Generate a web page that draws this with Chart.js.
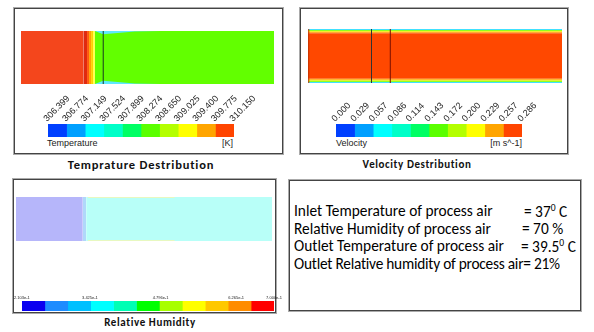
<!DOCTYPE html>
<html>
<head>
<meta charset="utf-8">
<script src="https://cdn.jsdelivr.net/npm/chart.js@4/dist/chart.umd.min.js"></script>
<style>
  body { margin: 0; width: 594px; height: 332px; background: #fff; position: relative; overflow: hidden; }
  .abs { position: absolute; }
  .panel { position: absolute; box-sizing: border-box; border: 1px solid #444; box-shadow: 0 0 0 1px #aaa; }
  .lbl { position: absolute; font: 9px "Liberation Sans", Arial, sans-serif; color: #222; white-space: nowrap; }
  .title { position: absolute; font: bold 11px Carlito, "Liberation Sans Narrow", "Liberation Sans", sans-serif; letter-spacing: 0.6px; color: #111; white-space: nowrap; transform: translateX(-50%); }
  .txt { position: absolute; font: 16px Carlito, "Liberation Sans Narrow", "Liberation Sans", sans-serif; color: #000; white-space: nowrap; transform: scaleX(0.96); transform-origin: left center; }
  .txt sup { font-size: 10px; vertical-align: 6px; }
</style>
</head>
<body>
<div class="panel" style="left:14px;top:8px;width:269px;height:146px"></div>
<div class="panel" style="left:300px;top:8px;width:268px;height:146px"></div>
<div class="panel" style="left:13px;top:179px;width:263px;height:134px"></div>
<div class="panel" style="left:289px;top:180px;width:292px;height:131px"></div>

<canvas id="tField" class="abs" width="253" height="53" style="left:21px;top:31px"></canvas>
<canvas id="tBar" class="abs" width="228" height="49" style="left:40px;top:88px"></canvas>
<canvas id="vField" class="abs" width="254" height="54" style="left:308px;top:29px"></canvas>
<canvas id="vBar" class="abs" width="228" height="49" style="left:328px;top:88px"></canvas>
<canvas id="hField" class="abs" width="256" height="44" style="left:16px;top:197px"></canvas>
<canvas id="hBar" class="abs" width="275" height="16" style="left:13px;top:295px"></canvas>

<div class="lbl" style="left:47px;top:138px">Temperature</div>
<div class="lbl" style="right:361px;top:138px">[K]</div>
<div class="lbl" style="left:336px;top:138px">Velocity</div>
<div class="lbl" style="right:72px;top:138px">[m s^-1]</div>

<div class="title" style="left:141px;top:157px;font-size:12.5px;letter-spacing:0.8px">Temprature Destribution</div>
<div class="title" style="left:417px;top:158px">Velocity Destribution</div>
<div class="title" style="left:150px;top:316px">Relative Humidity</div>

<div class="txt" style="left:294px;top:201px">Inlet Temperature of process air</div>
<div class="txt" style="left:524px;top:201px">= 37<sup>0</sup> C</div>
<div class="txt" style="left:294px;top:219px">Relative Humidity of process air</div>
<div class="txt" style="left:522px;top:219px">= 70 %</div>
<div class="txt" style="left:294px;top:236px">Outlet Temperature of process air</div>
<div class="txt" style="left:521px;top:236px">= 39.5<sup>0</sup> C</div>
<div class="txt" style="left:294px;top:254px;letter-spacing:-0.25px">Outlet Relative humidity of process air= 21%</div>

<script>
// colour bar tick labels
const tempTicks = [306.399, 306.774, 307.149, 307.524, 307.899, 308.274, 308.650, 309.025, 309.400, 309.775, 310.150];
const velTicks = [0.000, 0.029, 0.057, 0.086, 0.114, 0.143, 0.172, 0.200, 0.229, 0.257, 0.286];
const rhTicks = [0.2103, 0.3425, 0.4796, 0.6265, 0.7000];

// colour maps
const tenColours = ['#0040ff', '#00a0ff', '#00ffff', '#00ffc8', '#00ff64', '#5aff00', '#b4ff00', '#ffff00', '#ffa500', '#ff4500'];
const rhColours = ['#0a00f0', '#1e8cff', '#00c0ff', '#00ffff', '#00ffb4', '#00ff00', '#a8ff00', '#ffff00', '#ffc800', '#ff8c00', '#ff0000'];

// temperature field: axial bands (% of duct length)
const tempBandStart = [0, 24.6, 26.1, 26.9, 27.7, 28.5, 29.2];
const tempBandEnd = [24.6, 26.1, 26.9, 27.7, 28.5, 29.2, 100];
const tempBandColour = ['#f4461c', '#e02a10', '#ff5a10', '#ffa000', '#ffd000', '#ffff40', '#62ff00'];
const tempDivider = 32.5;

// velocity field: radial layers (0 = bottom wall, 1 = top wall)
const velLayerStart = [0, 0.02, 0.04, 0.06, 0.08, 0.92, 0.94, 0.96, 0.98];
const velLayerEnd = [0.02, 0.04, 0.06, 0.08, 0.92, 0.94, 0.96, 0.98, 1];
const velLayerColour = ['#40e0ff', '#90ff20', '#ffe000', '#ff9000', '#ff4800', '#ff9000', '#ffe000', '#90ff20', '#40e0ff'];
const velDividers = [25.0, 32.4];

// relative humidity field
const rhBandStart = [0, 26.1, 27.4];
const rhBandEnd = [26.1, 27.4, 100];
const rhBandColour = ['#b6b6fa', '#b0d8fa', '#b8fff8'];

function band(x0, x1, y0, y1, colour, order) {
  return { data: [{ x: x0, y: y1 }, { x: x1, y: y1 }], fill: { value: y0 }, backgroundColor: colour,
    borderWidth: 0, pointRadius: 0, order: order === undefined ? 2 : order };
}
function vline(x, colour) {
  return { data: [{ x: x, y: 0 }, { x: x, y: 1 }], fill: false, borderColor: colour, borderWidth: 1, pointRadius: 0, order: 0 };
}

function field(id, datasets) {
  new Chart(document.getElementById(id), {
    type: 'line',
    data: { datasets: datasets },
    options: {
      responsive: false, animation: false,
      plugins: { legend: { display: false }, tooltip: { enabled: false } },
      scales: {
        x: { type: 'linear', min: 0, max: 100, display: false },
        y: { type: 'linear', min: 0, max: 1, display: false }
      }
    }
  });
}

function colourBar(id, ticks, colours, fmt, opts) {
  const lo = ticks[0], hi = ticks[ticks.length - 1];
  const step = (hi - lo) / colours.length;
  new Chart(document.getElementById(id), {
    type: 'bar',
    data: {
      labels: [''],
      datasets: colours.map((c, i) => ({
        data: [[lo + i * step, lo + (i + 1) * step]], backgroundColor: c, borderWidth: 0,
        barPercentage: 1, categoryPercentage: 1, grouped: false
      }))
    },
    options: {
      indexAxis: 'y', responsive: false, animation: false,
      layout: { padding: { left: 8, right: opts.padRight, top: 0, bottom: 0 } },
      plugins: { legend: { display: false }, tooltip: { enabled: false } },
      scales: {
        y: { display: false },
        x: {
          type: 'linear', position: 'top', min: lo, max: hi,
          grid: { display: false, drawTicks: false }, border: { display: false },
          afterBuildTicks: s => { s.ticks = ticks.map(v => ({ value: v })); },
          afterFit: s => { s.height = opts.axisH; },
          ticks: {
            autoSkip: false, minRotation: opts.rot, maxRotation: opts.rot, padding: opts.pad,
            labelOffset: opts.shift, color: '#222', font: { family: 'Liberation Sans', size: opts.size },
            callback: v => fmt(v)
          }
        }
      }
    }
  });
}

field('tField', tempBandStart.map((s, i) => band(s, tempBandEnd[i], 0, 1, tempBandColour[i]))
  .concat([vline(tempDivider, '#1a3a20'),
    { data: [{ x: 29.2, y: 1 }, { x: 32.5, y: 0.94 }, { x: 45, y: 0.99 }, { x: 55, y: 1 }], fill: { value: 1 }, backgroundColor: '#5ee8ff', borderWidth: 0, pointRadius: 0, order: 1 },
    { data: [{ x: 29.2, y: 0 }, { x: 32.5, y: 0.06 }, { x: 45, y: 0.01 }, { x: 55, y: 0 }], fill: { value: 0 }, backgroundColor: '#5ee8ff', borderWidth: 0, pointRadius: 0, order: 1 }]));

field('vField', velLayerStart.map((s, i) => band(0, 100, s, velLayerEnd[i], velLayerColour[i]))
  .concat([vline(velDividers[0], '#333'), vline(velDividers[1], '#7a1000'), vline(0.3, '#c03000')]));

field('hField', rhBandStart.map((s, i) => band(s, rhBandEnd[i], 0, 1, rhBandColour[i]))
  .concat([band(28, 62, 0.975, 1, '#e8f8c0', 1), band(28, 62, 0, 0.025, '#e8f8c0', 1)]));

colourBar('tBar', tempTicks, tenColours, v => v.toFixed(3), { padRight: 34, axisH: 36, rot: 45, pad: 0, size: 9, shift: 5 });
colourBar('vBar', velTicks, tenColours, v => v.toFixed(3), { padRight: 34, axisH: 36, rot: 45, pad: 0, size: 9, shift: 5 });
colourBar('hBar', rhTicks, rhColours, v => v.toExponential(3), { padRight: 14, axisH: 6, rot: 0, pad: 1, size: 4, shift: 0 });
</script>
</body>
</html>
